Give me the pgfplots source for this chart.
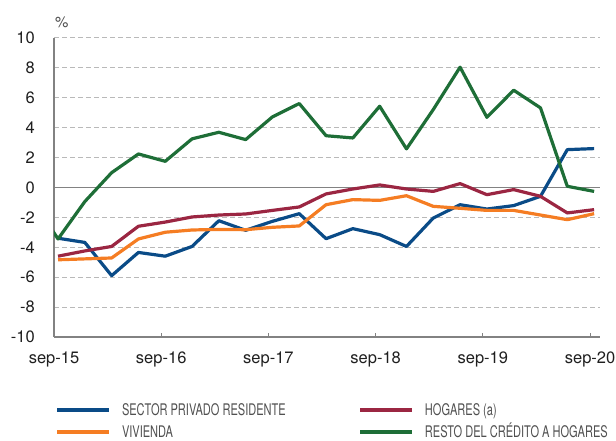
\documentclass[border=0pt]{standalone}
\usepackage{fontspec}
\setmainfont{TeX Gyre Heros}
\newfontfamily\condfont[FakeStretch=0.69]{TeX Gyre Heros}
\usepackage{pgfplots}
\usepackage{pgfplotstable}
\pgfplotsset{compat=1.18}

\definecolor{cBlue}{RGB}{10,75,135}
\definecolor{cRed}{RGB}{155,38,66}
\definecolor{cOrange}{RGB}{245,125,35}
\definecolor{cGreen}{RGB}{30,110,55}
\definecolor{cGrid}{RGB}{185,185,185}
\definecolor{cAxis}{RGB}{130,130,130}
\definecolor{cText}{RGB}{80,80,80}

% quarterly data, sep-15 = 0
\pgfplotstableread{
x     blue   red    orange
0.15  -3.40  -4.60  -4.84
1.15  -3.68  -4.25  -4.78
2.15  -5.90  -3.95  -4.72
3.15  -4.35  -2.60  -3.45
4.15  -4.60  -2.32  -3.00
5.15  -3.95  -1.98  -2.85
6.15  -2.23  -1.85  -2.81
7.15  -2.87  -1.78  -2.83
8.15  -2.27  -1.54  -2.67
9.15  -1.76  -1.31  -2.58
10.15 -3.43  -0.44  -1.16
11.15 -2.76  -0.11  -0.82
12.15 -3.16   0.16  -0.87
13.15 -3.95  -0.11  -0.56
14.15 -2.05  -0.27  -1.27
15.15 -1.16   0.25  -1.40
16.15 -1.45  -0.49  -1.54
17.15 -1.22  -0.15  -1.54
18.15 -0.60  -0.60  -1.85
19.15  2.52  -1.71  -2.16
20.15  2.59  -1.49  -1.76
}\datatable

% resto del credito (first row is jun-15, clipped)
\pgfplotstableread{
x      green
-0.85  -0.70
0.15   -3.45
1.15   -0.95
2.15    0.98
3.15    2.23
4.15    1.74
5.15    3.24
6.15    3.68
7.15    3.19
8.15    4.71
9.15    5.60
10.15   3.45
11.15   3.30
12.15   5.42
13.15   2.57
14.15   5.20
15.15   8.03
16.15   4.68
17.15   6.49
18.15   5.31
19.15   0.07
20.15  -0.27
}\greentable

\begin{document}
\begin{tikzpicture}
\useasboundingbox (0,0) rectangle (616pt,441pt);
\begin{axis}[
  name=ax,
  at={(54pt,104pt)}, anchor=south west,
  scale only axis, width=546pt, height=299.3pt,
  xmin=0, xmax=20.37, ymin=-10, ymax=10,
  axis x line*=bottom, axis y line*=left,
  x axis line style={cAxis, line width=1.8pt, -},
  y axis line style={cAxis, line width=1.2pt, -},
  xtick={0,4,8,12,16,20},
  xticklabels={sep-15,sep-16,sep-17,sep-18,sep-19,sep-20},
  ytick={-10,-8,-6,-4,-2,0,2,4,6,8,10},
  yticklabels={-10,-8,-6,-4,-2,0,2,4,6,8,10},
  major tick length=4pt,
  x tick style={cAxis, line width=0.8pt},
  tick align=inside,
  y tick style={draw=none},
  ymajorgrids,
  grid style={cGrid, line width=1pt, dash pattern=on 5pt off 3pt},
  extra y ticks={0}, extra y tick labels={},
  extra y tick style={grid style={cAxis, line width=1.2pt, solid}},
  xticklabel style={anchor=base, yshift=-26.5pt, font=\fontsize{16.5}{18}\selectfont, text=black!88},
  yticklabel style={anchor=east, inner sep=0pt, xshift=-19pt, font=\fontsize{16.5}{18}\selectfont, text=black!88},
  every axis plot/.append style={line width=3.2pt, line join=round},
  legend columns=2,
  legend style={at={(0.0,-0.223)}, anchor=north west, draw=none, inner sep=0pt, outer sep=0pt,
    xshift=1pt, font=\condfont\fontsize{16}{18}\selectfont, text=cText,
    nodes={inner sep=0pt, text height=12pt, text depth=0pt},
    row sep=10pt,
    /tikz/every odd column/.append style={column sep=11pt}},
  legend cell align=left,
  legend image code/.code={\draw[#1, line width=4pt] (0pt,0pt) -- (52pt,0pt);},
]
\addplot[cBlue] table[x=x, y=blue] {\datatable};
\addlegendentry{\makebox[236pt][l]{SECTOR PRIVADO RESIDENTE}}
\addplot[cRed] table[x=x, y=red] {\datatable};
\addlegendentry{HOGARES (a)}
\addplot[cOrange] table[x=x, y=orange] {\datatable};
\addlegendentry{\makebox[236pt][l]{VIVIENDA}}
\addplot[cGreen] table[x=x, y=green] {\greentable};
\addlegendentry{RESTO DEL CRÉDITO A HOGARES}
\end{axis}
\node[anchor=base west, inner sep=0pt, text=cText, font=\fontsize{15}{16}\selectfont]
  at ([xshift=1pt, yshift=10pt]ax.north west) {\%};
\end{tikzpicture}
\end{document}
